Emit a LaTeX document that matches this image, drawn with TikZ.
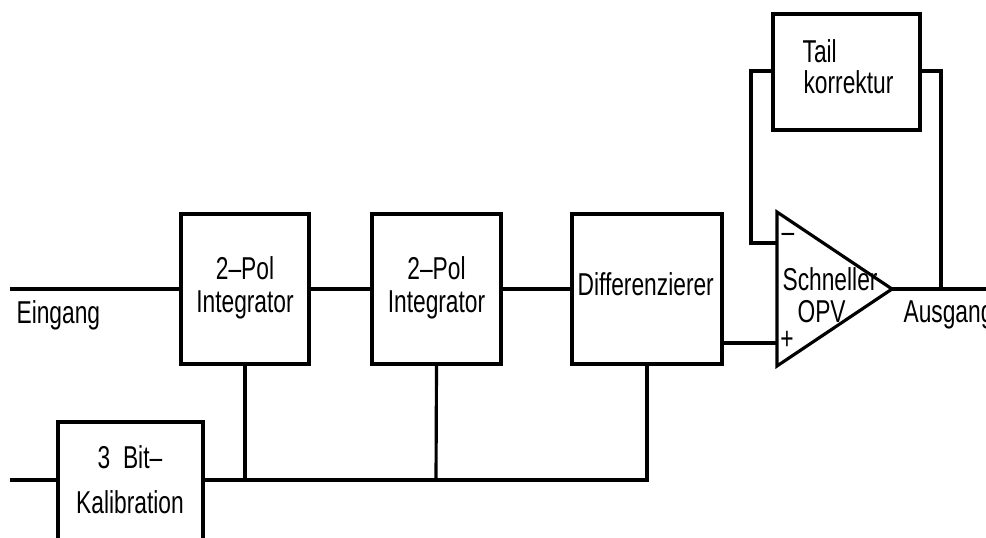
\documentclass[tikz,border=0pt]{standalone}
\usepackage{fontspec}
\setmainfont[FakeStretch=0.72]{Liberation Sans}
\begin{document}
\begin{tikzpicture}[x=0.02cm,y=-0.02cm,line width=1.8pt,
  box/.style={draw,rectangle,inner sep=0pt},
  lbl/.style={font=\fontsize{18}{21}\selectfont,inner sep=0pt}]
\useasboundingbox (0,0) rectangle (986,537);
\clip (0,0) rectangle (986,537);
% boxes
\node[box,minimum width=2.56cm,minimum height=3cm] (int1) at (245,289) {};
\node[box,minimum width=2.58cm,minimum height=3cm] (int2) at (436.5,289) {};
\node[box,minimum width=3cm,minimum height=3cm] (diff) at (647,289) {};
\node[box,minimum width=2.9cm,minimum height=2.76cm] (kal) at (130.5,491) {};
\node[box,minimum width=2.94cm,minimum height=2.32cm] (tail) at (846.5,72) {};
% op amp
\coordinate (optop) at (777,212);
\coordinate (opbot) at (777,366);
\coordinate (opout) at (892,289);
\coordinate (opminus) at (777,243);
\coordinate (opplus) at (777,343);
\draw[line join=miter] (optop) -- (opout) -- (opbot) -- cycle;
% free ends and junctions
\coordinate (ein) at (10,289);
\coordinate (kin) at (10,480);
\coordinate (aus) at (986,289);
\coordinate (fbl) at (751,71);
\coordinate (fbr) at (941,71);
\coordinate (j1) at (245,480);
\coordinate (j2) at (436,480);
\coordinate (j3) at (647,480);
% connectors
\draw (ein) -- (int1.west);
\draw (int1.east) -- (int2.west);
\draw (int2.east) -- (diff.west);
\draw (kin) -- (kal.west |- kin);
\draw (kal.east |- kin) -- (j3) -- (diff.south);
\draw (int1.south) -- (j1);
\draw (int2.south) -- (j2);
\draw (diff.east |- opplus) -- (opplus);
\draw (opout) -- (aus);
\draw (opminus) -- (fbl |- opminus) -- (fbl) -- (tail.west |- fbl);
\draw (tail.east |- fbr) -- (fbr) -- (fbr |- opout);
% labels
\node[lbl,anchor=base] at (245,279) {2–Pol};
\node[lbl,anchor=base] at (245,312) {Integrator};
\node[lbl,anchor=base] at (436.5,279) {2–Pol};
\node[lbl,anchor=base] at (436.5,312) {Integrator};
\node[lbl,anchor=base west] at (576,295) {Differenzierer};
\node[lbl,anchor=base west] at (801,63) {Tail};
\node[lbl,anchor=base west] at (802,93) {korrektur};
\node[lbl,anchor=base west] at (781,290) {Schneller};
\node[lbl,anchor=base west] at (796,322) {OPV};
\node[lbl] at (788,238) {–};
\node[lbl] at (787,340) {+};
\node[lbl,anchor=base west] at (15,323) {Eingang};
\node[lbl,anchor=base west] at (902,322) {Ausgang};
\node[lbl,anchor=base] at (130,468) {3\ \ Bit–};
\node[lbl,anchor=base] at (130,513) {Kalibration};
\end{tikzpicture}
\end{document}
